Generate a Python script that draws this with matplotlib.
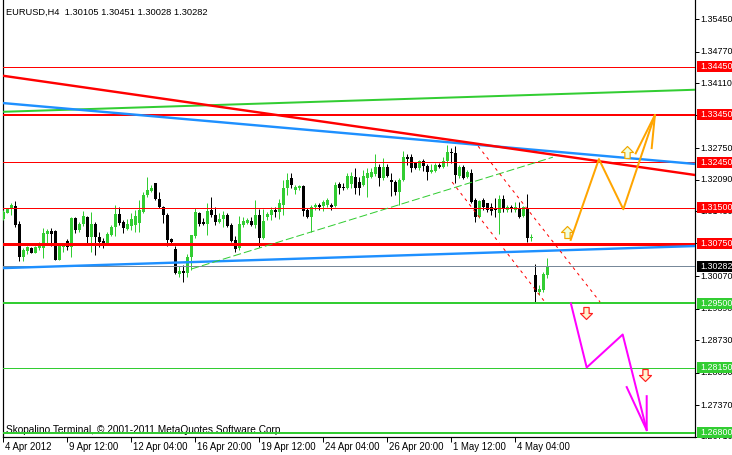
import matplotlib
matplotlib.use("Agg")
import numpy as np
import matplotlib.pyplot as plt
from matplotlib.transforms import blended_transform_factory, ScaledTranslation
from matplotlib.patches import Rectangle
from matplotlib.path import Path

# ---------------- data (EURUSD H4 candles) ----------------
opens = [1.3127,1.3139,1.3150,1.3154,1.3116,1.3047,1.3060,1.3066,1.3056,1.3066,
         1.3066,1.3095,1.3102,1.3102,1.3041,1.3068,1.3081,1.3068,1.3129,1.3104,
         1.3116,1.3131,1.3089,1.3116,1.3089,1.3081,1.3076,1.3093,1.3110,1.3137,
         1.3120,1.3106,1.3112,1.3114,1.3118,1.3141,1.3177,1.3185,1.3202,1.3169,
         1.3152,1.3135,1.3085,1.3064,1.3012,1.3018,1.3014,1.3047,1.3091,1.3139,
         1.3120,1.3116,1.3146,1.3135,1.3120,1.3127,1.3135,1.3114,1.3083,1.3066,
         1.3114,1.3118,1.3123,1.3114,1.3135,1.3087,1.3131,1.3135,1.3146,1.3141,
         1.3156,1.3192,1.3213,1.3187,1.3192,1.3196,1.3146,1.3131,1.3152,1.3156,
         1.3154,1.3156,1.3156,1.3154,1.3200,1.3194,1.3192,1.3200,1.3215,1.3204,
         1.3198,1.3213,1.3215,1.3221,1.3236,1.3213,1.3236,1.3208,1.3204,1.3183,
         1.3208,1.3256,1.3256,1.3244,1.3233,1.3248,1.3238,1.3225,1.3227,1.3240,
         1.3236,1.3248,1.3267,1.3265,1.3217,1.3236,1.3215,1.3223,1.3166,1.3131,
         1.3166,1.3160,1.3152,1.3150,1.3139,1.3169,1.3146,1.3152,1.3146,1.3148,
         1.3133,1.3150,1.3087,1.3010,1.2974,1.2978,1.30105]
highs = [1.3146,1.3150,1.3160,1.3164,1.3123,1.3066,1.3070,1.3068,1.3070,1.3079,
         1.3108,1.3106,1.3108,1.3104,1.3076,1.3076,1.3085,1.3131,1.3131,1.3120,
         1.3143,1.3133,1.3141,1.3120,1.3099,1.3087,1.3099,1.3114,1.3156,1.3152,
         1.3125,1.3127,1.3139,1.3146,1.3166,1.3183,1.3215,1.3198,1.3202,1.3183,
         1.3154,1.3139,1.3087,1.3070,1.3028,1.3030,1.3053,1.3093,1.3150,1.3141,
         1.3129,1.3160,1.3173,1.3152,1.3139,1.3143,1.3139,1.3118,1.3091,1.3133,
         1.3131,1.3129,1.3131,1.3166,1.3148,1.3148,1.3141,1.3152,1.3152,1.3169,
         1.3208,1.3223,1.3223,1.3198,1.3198,1.3198,1.3150,1.3156,1.3160,1.3160,
         1.3166,1.3171,1.3160,1.3204,1.3204,1.3202,1.3223,1.3225,1.3233,1.3215,
         1.3229,1.3233,1.3233,1.3263,1.3242,1.3254,1.3242,1.3223,1.3208,1.3213,
         1.3269,1.3263,1.3263,1.3246,1.3250,1.3252,1.3242,1.3242,1.3244,1.3244,
         1.3256,1.3281,1.3275,1.3279,1.3240,1.3240,1.3229,1.3231,1.3171,1.3166,
         1.3171,1.3160,1.3160,1.3171,1.3177,1.3177,1.3156,1.3156,1.3162,1.3162,
         1.3154,1.3179,1.3095,1.3033,1.2989,1.3016,1.30451]
lows = [1.3125,1.3139,1.3135,1.3110,1.3039,1.3039,1.3053,1.3056,1.3056,1.3062,
        1.3045,1.3076,1.3070,1.3041,1.3041,1.3058,1.3062,1.3047,1.3097,1.3099,
        1.3112,1.3072,1.3058,1.3051,1.3068,1.3066,1.3072,1.3091,1.3091,1.3114,
        1.3097,1.3104,1.3104,1.3099,1.3099,1.3139,1.3173,1.3183,1.3166,1.3150,
        1.3118,1.3070,1.3072,1.3012,1.3005,1.2995,1.3005,1.3020,1.3087,1.3112,
        1.3114,1.3093,1.3131,1.3114,1.3118,1.3110,1.3110,1.3079,1.3058,1.3062,
        1.3110,1.3116,1.3112,1.3108,1.3068,1.3085,1.3125,1.3125,1.3131,1.3127,
        1.3135,1.3177,1.3192,1.3179,1.3187,1.3133,1.3129,1.3099,1.3146,1.3146,
        1.3143,1.3152,1.3146,1.3152,1.3179,1.3187,1.3190,1.3192,1.3179,1.3177,
        1.3196,1.3173,1.3213,1.3217,1.3196,1.3208,1.3215,1.3175,1.3177,1.3156,
        1.3206,1.3240,1.3225,1.3231,1.3229,1.3227,1.3208,1.3223,1.3225,1.3233,
        1.3233,1.3238,1.3244,1.3202,1.3213,1.3210,1.3213,1.3160,1.3120,1.3129,
        1.3146,1.3141,1.3135,1.3131,1.3095,1.3141,1.3141,1.3141,1.3141,1.3129,
        1.3131,1.3079,1.3081,1.2953,1.2968,1.2974,1.30028]
closes = [1.3141,1.3148,1.3156,1.3114,1.3047,1.3062,1.3068,1.3056,1.3068,1.3070,
          1.3097,1.3102,1.3095,1.3041,1.3070,1.3072,1.3068,1.3129,1.3104,1.3116,
          1.3133,1.3089,1.3116,1.3089,1.3079,1.3076,1.3095,1.3110,1.3137,1.3118,
          1.3108,1.3116,1.3127,1.3133,1.3146,1.3177,1.3187,1.3192,1.3169,1.3152,
          1.3135,1.3083,1.3079,1.3014,1.3018,1.3014,1.3047,1.3093,1.3141,1.3116,
          1.3116,1.3143,1.3135,1.3120,1.3127,1.3135,1.3112,1.3081,1.3064,1.3116,
          1.3123,1.3125,1.3114,1.3135,1.3087,1.3123,1.3137,1.3146,1.3141,1.3160,
          1.3192,1.3208,1.3198,1.3194,1.3196,1.3143,1.3131,1.3152,1.3156,1.3152,
          1.3162,1.3166,1.3152,1.3198,1.3192,1.3192,1.3217,1.3217,1.3192,1.3192,
          1.3217,1.3223,1.3225,1.3236,1.3213,1.3236,1.3217,1.3204,1.3183,1.3208,
          1.3256,1.3252,1.3233,1.3233,1.3248,1.3238,1.3225,1.3229,1.3240,1.3236,
          1.3248,1.3267,1.3265,1.3219,1.3236,1.3213,1.3225,1.3162,1.3131,1.3164,
          1.3152,1.3146,1.3143,1.3146,1.3169,1.3150,1.3152,1.3148,1.3152,1.3131,
          1.3152,1.3087,1.3089,1.2974,1.2980,1.3012,1.30282]

time_ticks = [0, 16, 32, 48, 64, 80, 96, 112, 128]
time_labels = ["4 Apr 2012", "9 Apr 12:00", "12 Apr 04:00", "16 Apr 20:00",
               "19 Apr 12:00", "24 Apr 04:00", "26 Apr 20:00", "1 May 12:00",
               "4 May 04:00"]
price_ticks = [1.3545, 1.3477, 1.3411, 1.3345, 1.3275, 1.3209, 1.3143,
               1.3077, 1.3007, 1.2939, 1.2873, 1.2805, 1.2737, 1.2671]
# tick values whose label is completely covered by a level label in the chart
covered_ticks = [1.3345, 1.3077]

red_levels = [1.3445, 1.3345, 1.3245, 1.3150, 1.3075]
red_widths = [1, 2, 1, 1, 3]          # pixels
green_levels = [1.2950, 1.2815, 1.2680]
green_widths = [2, 1, 2]
bid_price = 1.30282

# trend lines: (bar, price) end points
red_trend = ([0.2, 172.7], [1.3426, 1.3219])
blue_upper = ([0.2, 172.7], [1.3369, 1.3242])
blue_lower = ([0.2, 172.7], [1.3024, 1.3070])
green_upper = ([0.2, 172.7], [1.3351, 1.3397])
green_dash = ([47.0, 137.4], [1.3022, 1.3256])
red_dash_a = ([118.7, 149.2], [1.3279, 1.2953])
red_dash_b = ([112.2, 135.4], [1.3204, 1.2953])

orange_x = [141.85, 148.9, 155.0, 162.9]
orange_y = [1.3083, 1.3252, 1.3147, 1.3344]
orange_head_x = [158.1, 162.9, 162.1]
orange_head_y = [1.3264, 1.3344, 1.3275]
magenta_x = [141.9, 145.85, 154.85, 160.85]
magenta_y = [1.2950, 1.2816, 1.2885, 1.2685]
magenta_head_x = [155.85, 160.85, 160.85]
magenta_head_y = [1.2775, 1.2685, 1.2756]
up_arrow_x = [140.85, 155.9]
up_arrow_y = [1.3100, 1.3267]
down_arrow_x = [145.6, 160.5]
down_arrow_y = [1.2931, 1.2800]

# ---------------- figure ----------------
W, H, DPI = 732, 455, 100
PX = 72.0 / DPI
GREEN = "#32CD32"
RED = "#FF0000"
BLUE = "#1E90FF"
plt.rcParams['font.family'] = ['Liberation Sans', 'DejaVu Sans']
FS = 6.9

fig = plt.figure(figsize=(W / DPI, H / DPI), dpi=DPI, facecolor="white")
ax = fig.add_axes([3 / W, (H - 437) / H, (695 - 3) / W, 437 / H])
ax.set_facecolor("white")
ax.set_xlim(-0.075, 172.925)
ax.set_ylim(1.26706, 1.35848)
for s in ["left", "right", "bottom"]:
    ax.spines[s].set_linewidth(PX * 1.2)
    ax.spines[s].set_color("black")
ax.spines["top"].set_visible(False)

ax.yaxis.tick_right()
ax.set_yticks(price_ticks)
ax.set_xticks(time_ticks)
ax.tick_params(axis="y", direction="out", length=4 * PX, width=PX,
               labelright=False, labelleft=False)
ax.tick_params(axis="x", direction="out", length=5 * PX, width=PX,
               labelbottom=False)

# candles
idx = np.arange(len(opens))
o, h, l, c = (np.array(v) for v in (opens, highs, lows, closes))
up = c >= o
cols = np.where(up, GREEN, "black")
ax.vlines(idx, l, h, colors=cols, linewidth=PX, zorder=3)
ax.bar(idx, np.maximum(np.abs(c - o), 0.00012), 0.75,
       bottom=np.minimum(o, c), color=cols, linewidth=0, zorder=3)

# horizontal levels
for lv, w in zip(red_levels, red_widths):
    ax.axhline(lv, color=RED, linewidth=w * PX, zorder=5)
for lv, w in zip(green_levels, green_widths):
    ax.axhline(lv, color=GREEN, linewidth=w * PX, zorder=5)
ax.axhline(bid_price, color="#778899", linewidth=PX, zorder=4)

# trend lines
ax.plot(*green_upper, color=GREEN, linewidth=2 * PX, zorder=5)
ax.plot(*blue_lower, color=BLUE, linewidth=2.4 * PX, zorder=5)
ax.plot(*blue_upper, color=BLUE, linewidth=2.4 * PX, zorder=5)
ax.plot(*red_trend, color=RED, linewidth=2.4 * PX, zorder=6)
ax.plot(*green_dash, color=GREEN, linewidth=PX, dashes=(8, 3), zorder=5)
ax.plot(*red_dash_a, color=RED, linewidth=PX, dashes=(3, 4), zorder=5)
ax.plot(*red_dash_b, color=RED, linewidth=PX, dashes=(3, 4), zorder=5)

# projections
ax.plot(orange_x, orange_y, color="#FFA500", linewidth=2 * PX, zorder=7)
ax.plot(orange_head_x, orange_head_y, color="#FFA500", linewidth=2 * PX, zorder=7)
ax.plot(magenta_x, magenta_y, color="#FF00FF", linewidth=2 * PX, zorder=7)
ax.plot(magenta_head_x, magenta_head_y, color="#FF00FF", linewidth=2 * PX, zorder=7)

up_path = Path([(-0.22, -0.5), (0.22, -0.5), (0.22, 0.0), (0.5, 0.0), (0.0, 0.5),
                (-0.5, 0.0), (-0.22, 0.0), (-0.22, -0.5)], closed=True)
down_path = Path([(-0.22, 0.5), (0.22, 0.5), (0.22, 0.0), (0.5, 0.0), (0.0, -0.5),
                  (-0.5, 0.0), (-0.22, 0.0), (-0.22, 0.5)], closed=True)
ax.plot(up_arrow_x, up_arrow_y, linestyle="none", marker=up_path, markersize=12 * PX,
        markerfacecolor="#F0FFE0", markeredgecolor="#F0A800", markeredgewidth=1.2 * PX,
        zorder=8)
ax.plot(down_arrow_x, down_arrow_y, linestyle="none", marker=down_path, markersize=12 * PX,
        markerfacecolor="#FFF4D0", markeredgecolor="#FF2020", markeredgewidth=1.2 * PX,
        zorder=8)

# texts in chart
ax.text(6 / W, 1 - 12 / H, "EURUSD,H4  1.30105 1.30451 1.30028 1.30282",
        transform=fig.transFigure, fontsize=6.7, va="center", ha="left", zorder=2)
ax.text(6 / W, 1 - 430 / H, "Skopalino Terminal, \u00a9 2001-2011 MetaQuotes Software Corp.",
        transform=fig.transFigure, fontsize=7.3, va="center", ha="left", zorder=2)

# time labels
tx = blended_transform_factory(ax.transData, fig.transFigure)
for t, lab in zip(time_ticks, time_labels):
    ax.text(t, 1 - 447 / H, lab, transform=tx + ScaledTranslation(2 / DPI, 0, fig.dpi_scale_trans),
            fontsize=FS, va="center", ha="left", clip_on=False)

# price labels
RFS = 6.4
ty = blended_transform_factory(fig.transFigure, ax.transData)
for p in price_ticks:
    if p in covered_ticks:
        continue
    ax.text(700 / W, p, f"{p:.5f}", transform=ty, fontsize=RFS, va="center", ha="left",
            clip_on=False, zorder=3)

box_h = 11 * 0.0002092
def level_label(p, face):
    ax.add_patch(Rectangle((697 / W, p - box_h / 2), (W - 697) / W, box_h, transform=ty,
                           facecolor=face, edgecolor="none", clip_on=False, zorder=9))
    ax.text(700 / W, p, f"{p:.5f}", transform=ty, fontsize=RFS, va="center", ha="left",
            color="white", clip_on=False, zorder=10)

for lv in red_levels:
    level_label(lv, RED)
level_label(bid_price, "black")
for lv in green_levels:
    level_label(lv, GREEN)

fig.savefig("out.png", dpi=DPI, facecolor="white")
